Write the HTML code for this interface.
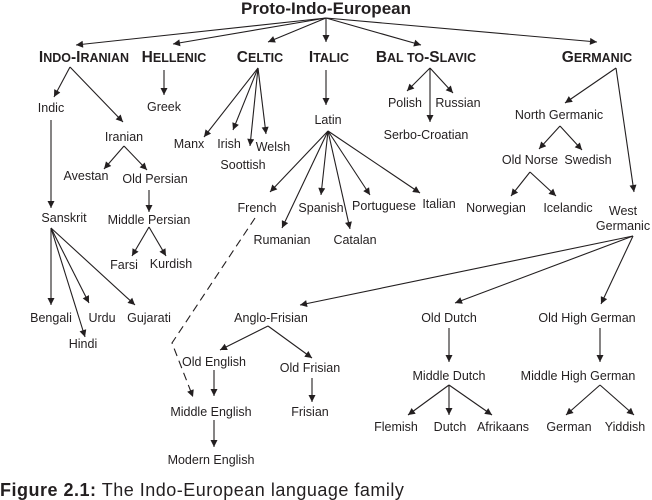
<!DOCTYPE html>
<html><head><meta charset="utf-8"><style>
html,body{margin:0;padding:0;background:#fff;width:652px;height:500px;overflow:hidden}
svg{display:block}
text{font-family:"Liberation Sans",sans-serif;fill:#231f20}
.n{font-size:12.5px;text-anchor:middle}
.h{font-size:15.5px;font-weight:bold;text-anchor:middle}
.s{font-size:12.5px}
line,polyline{stroke:#231f20;stroke-width:1.1;fill:none}
</style></head><body>
<svg width="652" height="500" viewBox="0 0 652 500">
<defs><marker id="a" viewBox="0 0 10 10" refX="10" refY="5" markerWidth="9" markerHeight="7" orient="auto" markerUnits="userSpaceOnUse"><path d="M0,0L10,5L0,10z" fill="#231f20"/></marker></defs>
<g marker-end="url(#a)">
<line x1="326" y1="18" x2="76" y2="45"/>
<line x1="326" y1="18" x2="173" y2="44"/>
<line x1="326" y1="18" x2="268" y2="42"/>
<line x1="326" y1="18" x2="326" y2="42"/>
<line x1="326" y1="18" x2="421" y2="45"/>
<line x1="326" y1="18" x2="597" y2="42"/>
<line x1="70" y1="67" x2="54" y2="97"/>
<line x1="70" y1="67" x2="123" y2="122"/>
<line x1="124" y1="146" x2="104" y2="169"/>
<line x1="124" y1="146" x2="147" y2="170"/>
<line x1="149" y1="190" x2="149" y2="212"/>
<line x1="149" y1="227" x2="132" y2="256"/>
<line x1="149" y1="227" x2="166" y2="256"/>
<line x1="51" y1="120" x2="51" y2="208"/>
<line x1="51" y1="228" x2="51" y2="305"/>
<line x1="51" y1="228" x2="85" y2="337"/>
<line x1="51" y1="228" x2="89" y2="303"/>
<line x1="51" y1="228" x2="135" y2="305"/>
<line x1="164" y1="70" x2="164" y2="95"/>
<line x1="258" y1="68" x2="204" y2="137"/>
<line x1="258" y1="68" x2="233" y2="130"/>
<line x1="258" y1="68" x2="250" y2="146"/>
<line x1="258" y1="68" x2="266" y2="134"/>
<line x1="326" y1="70" x2="326" y2="105"/>
<line x1="328" y1="131" x2="270" y2="192"/>
<line x1="328" y1="131" x2="282" y2="228"/>
<line x1="328" y1="131" x2="321" y2="195"/>
<line x1="328" y1="131" x2="350" y2="229"/>
<line x1="328" y1="131" x2="370" y2="195"/>
<line x1="328" y1="131" x2="420" y2="193"/>
<line x1="430" y1="68" x2="407" y2="91"/>
<line x1="430" y1="68" x2="430" y2="122"/>
<line x1="430" y1="68" x2="453" y2="93"/>
<line x1="616" y1="68" x2="565" y2="103"/>
<line x1="616" y1="68" x2="634" y2="192"/>
<line x1="560" y1="126" x2="539" y2="149"/>
<line x1="560" y1="126" x2="582" y2="150"/>
<line x1="530" y1="172" x2="511" y2="196"/>
<line x1="530" y1="172" x2="556" y2="196"/>
<line x1="633" y1="236" x2="300" y2="305"/>
<line x1="633" y1="236" x2="455" y2="303"/>
<line x1="633" y1="236" x2="601" y2="304"/>
<line x1="268" y1="326" x2="220" y2="350"/>
<line x1="268" y1="326" x2="312" y2="358"/>
<line x1="214" y1="370" x2="214" y2="396"/>
<line x1="312" y1="378" x2="312" y2="402"/>
<line x1="214" y1="420" x2="214" y2="447"/>
<polyline points="255,218 172,343 193,397" stroke-dasharray="8,5"/>
<line x1="449" y1="328" x2="449" y2="362"/>
<line x1="449" y1="385" x2="408" y2="415"/>
<line x1="449" y1="385" x2="449" y2="415"/>
<line x1="449" y1="385" x2="492" y2="415"/>
<line x1="600" y1="328" x2="600" y2="362"/>
<line x1="600" y1="385" x2="566" y2="415"/>
<line x1="600" y1="385" x2="634" y2="415"/>
</g>
<text x="326" y="14" text-anchor="middle" font-size="17" font-weight="bold">Proto-Indo-European</text>
<text class="h" x="84" y="62">I<tspan class="s">NDO</tspan>-I<tspan class="s">RANIAN</tspan></text>
<text class="h" x="174" y="62">H<tspan class="s">ELLENIC</tspan></text>
<text class="h" x="260" y="62">C<tspan class="s">ELTIC</tspan></text>
<text class="h" x="329" y="62">I<tspan class="s">TALIC</tspan></text>
<text class="h" x="426" y="62">B<tspan class="s">AL TO</tspan>-S<tspan class="s">LAVIC</tspan></text>
<text class="h" x="597" y="62">G<tspan class="s">ERMANIC</tspan></text>
<text class="n" x="51" y="112">Indic</text>
<text class="n" x="124" y="141">Iranian</text>
<text class="n" x="86" y="180">Avestan</text>
<text class="n" x="155" y="183">Old Persian</text>
<text class="n" x="149" y="224">Middle Persian</text>
<text class="n" x="124" y="269">Farsi</text>
<text class="n" x="171" y="268">Kurdish</text>
<text class="n" x="64" y="222">Sanskrit</text>
<text class="n" x="51" y="322">Bengali</text>
<text class="n" x="102" y="322">Urdu</text>
<text class="n" x="149" y="322">Gujarati</text>
<text class="n" x="83" y="348">Hindi</text>
<text class="n" x="164" y="111">Greek</text>
<text class="n" x="189" y="148">Manx</text>
<text class="n" x="229" y="148">Irish</text>
<text class="n" x="273" y="151">Welsh</text>
<text class="n" x="243" y="169">Soottish</text>
<text class="n" x="328" y="124">Latin</text>
<text class="n" x="257" y="212">French</text>
<text class="n" x="282" y="244">Rumanian</text>
<text class="n" x="321" y="212">Spanish</text>
<text class="n" x="355" y="244">Catalan</text>
<text class="n" x="384" y="210">Portuguese</text>
<text class="n" x="439" y="208">Italian</text>
<text class="n" x="405" y="107">Polish</text>
<text class="n" x="458" y="107">Russian</text>
<text class="n" x="426" y="139">Serbo-Croatian</text>
<text class="n" x="559" y="119">North Germanic</text>
<text class="n" x="530" y="164">Old Norse</text>
<text class="n" x="588" y="164">Swedish</text>
<text class="n" x="496" y="212">Norwegian</text>
<text class="n" x="568" y="212">Icelandic</text>
<text class="n" x="623" y="215">West</text>
<text class="n" x="623" y="230">Germanic</text>
<text class="n" x="271" y="322">Anglo-Frisian</text>
<text class="n" x="214" y="366">Old English</text>
<text class="n" x="310" y="372">Old Frisian</text>
<text class="n" x="211" y="416">Middle English</text>
<text class="n" x="310" y="416">Frisian</text>
<text class="n" x="211" y="464">Modern English</text>
<text class="n" x="449" y="322">Old Dutch</text>
<text class="n" x="449" y="380">Middle Dutch</text>
<text class="n" x="396" y="431">Flemish</text>
<text class="n" x="450" y="431">Dutch</text>
<text class="n" x="503" y="431">Afrikaans</text>
<text class="n" x="587" y="322">Old High German</text>
<text class="n" x="578" y="380">Middle High German</text>
<text class="n" x="569" y="431">German</text>
<text class="n" x="625" y="431">Yiddish</text>
<text x="0" y="496" font-size="18" letter-spacing="0.5"><tspan font-weight="bold">Figure 2.1:</tspan> The Indo-European language family</text>
</svg>
</body></html>
